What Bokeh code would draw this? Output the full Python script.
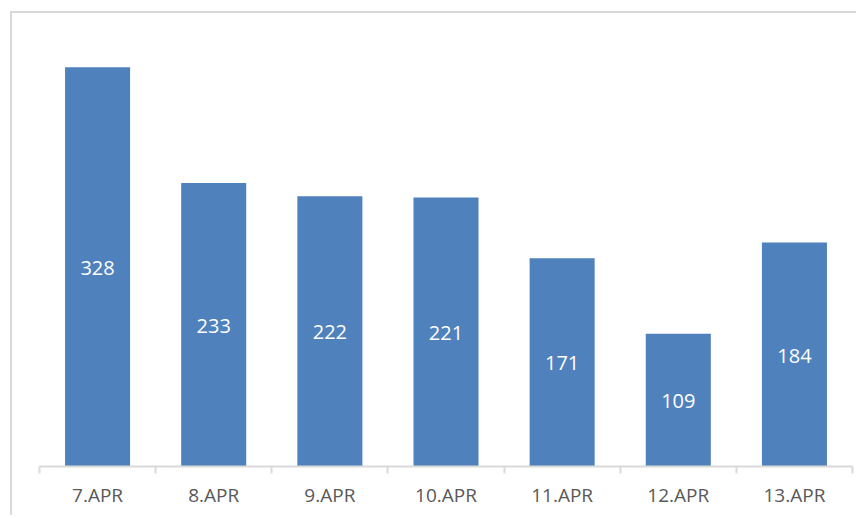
from bokeh.plotting import figure
from bokeh.models import FixedTicker, ColumnDataSource, LabelSet
from bokeh.embed import file_html
from bokeh.resources import INLINE
from bokeh.core.properties import value

categories = ["7.APR", "8.APR", "9.APR", "10.APR", "11.APR", "12.APR", "13.APR"]
values = [328, 233, 222, 221, 171, 109, 184]

positions = [i + 0.5 for i in range(len(categories))]
src = ColumnDataSource(dict(
    x=positions,
    top=values,
    mid=[v / 2 for v in values],
    label=[str(v) for v in values],
))

W, H = 846, 504
p = figure(width=W, height=H, output_backend="svg", toolbar_location=None,
           x_range=(0, len(categories)), y_range=(0, 350),
           min_border_left=27, min_border_right=6, min_border_top=27,
           min_border_bottom=51)
p.styles = {"border-left": "2px solid #d9d9d9", "border-top": "2px solid #d9d9d9",
            "margin-left": "10px", "margin-top": "11px"}

p.vbar(x="x", top="top", width=0.56, bottom=0, source=src,
       fill_color="#4F81BD", line_color=None)

labels = LabelSet(x="x", y="mid", text="label", source=src,
                  text_color="white", text_font=value("Open Sans"),
                  text_font_size="20px", text_align="center",
                  text_baseline="middle", y_offset=-1)
p.add_layout(labels)

p.xaxis.ticker = FixedTicker(ticks=positions, minor_ticks=list(range(len(categories) + 1)))
p.xaxis.major_label_overrides = {pos: cat for pos, cat in zip(positions, categories)}
p.xaxis.axis_line_color = "#d9d9d9"
p.xaxis.axis_line_width = 2
p.xaxis.major_tick_line_color = None
p.xaxis.major_tick_out = 0
p.xaxis.major_tick_in = 0
p.xaxis.minor_tick_line_color = "#d9d9d9"
p.xaxis.minor_tick_line_width = 2
p.xaxis.minor_tick_out = 7
p.xaxis.minor_tick_in = 0
p.xaxis.major_label_text_font = "Open Sans"
p.xaxis.major_label_text_font_size = "19px"
p.xaxis.major_label_text_color = "#595959"
p.xaxis.major_label_standoff = 8
p.yaxis.visible = False
p.xgrid.visible = False
p.ygrid.visible = False
p.outline_line_color = None
p.background_fill_color = "white"
p.border_fill_color = "white"

open("out.html", "w").write(file_html(p, INLINE))
